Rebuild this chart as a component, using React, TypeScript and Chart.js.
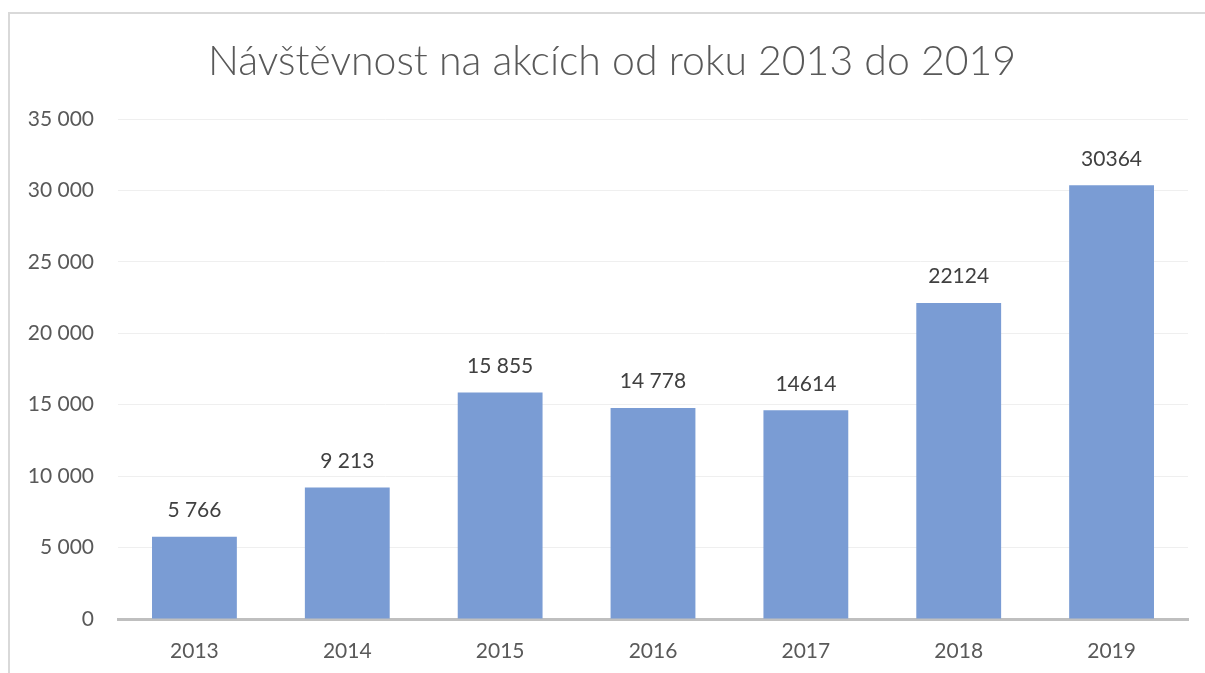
import React, { useEffect, useRef } from "react";
import { Chart, registerables } from "chart.js";

Chart.register(...registerables);

const categories = ["2013", "2014", "2015", "2016", "2017", "2018", "2019"];
const visitors = [5766, 9213, 15855, 14778, 14614, 22124, 30364];
const valueLabels = ["5 766", "9 213", "15 855", "14 778", "14614", "22124", "30364"];
const titleText = "Návštěvnost na akcích od roku 2013 do 2019";

const FONT = "Lato, 'Open Sans', sans-serif";
const TEXT = "#595959";

const fmt = (v: number) => String(v).replace(/\B(?=(\d{3})+(?!\d))/g, " ");

const decor = {
  id: "decor",
  beforeDraw(chart: any) {
    const ctx = chart.ctx;
    ctx.save();
    ctx.fillStyle = "#ffffff";
    ctx.fillRect(0, 0, chart.width, chart.height);
    ctx.strokeStyle = "#d9d9d9";
    ctx.lineWidth = 2;
    ctx.beginPath();
    ctx.moveTo(9, 700);
    ctx.lineTo(9, 13);
    ctx.lineTo(1205, 13);
    ctx.stroke();
    ctx.fillStyle = TEXT;
    ctx.font = `300 41px ${FONT}`;
    ctx.textAlign = "center";
    ctx.textBaseline = "alphabetic";
    ctx.fillText(titleText, 612, 75);
    ctx.restore();
  },
  afterDatasetsDraw(chart: any) {
    const ctx = chart.ctx;
    const meta = chart.getDatasetMeta(0);
    ctx.save();
    ctx.fillStyle = "#404040";
    ctx.font = `21px ${FONT}`;
    ctx.textAlign = "center";
    ctx.textBaseline = "alphabetic";
    meta.data.forEach((bar: any, i: number) => {
      ctx.fillText(valueLabels[i], bar.x, bar.y - 19.5);
    });
    ctx.restore();
  },
};

export default function App() {
  const ref = useRef<HTMLCanvasElement | null>(null);
  useEffect(() => {
    if (!ref.current) return;
    const chart = new Chart(ref.current, {
      type: "bar",
      data: {
        labels: categories,
        datasets: [
          {
            data: visitors,
            backgroundColor: "#7A9CD4",
            barPercentage: 0.555,
            categoryPercentage: 1,
          },
        ],
      },
      options: {
        animation: false,
        responsive: false,
        maintainAspectRatio: false,
        layout: { padding: { top: 119, right: 17, left: 0, bottom: 0 } },
        plugins: { legend: { display: false }, tooltip: { enabled: false }, title: { display: false } },
        scales: {
          x: {
            grid: { display: false, drawTicks: false },
            border: { display: true, color: "#bfbfbf", width: 3 },
            ticks: { color: TEXT, font: { family: FONT, size: 21 }, padding: 20 },
            afterFit: (s: any) => { s.height = 54; },
          },
          y: {
            min: 0,
            max: 35000,
            grid: { color: "#efefef", lineWidth: 1, drawTicks: false },
            border: { display: false },
            ticks: {
              stepSize: 5000,
              color: TEXT,
              font: { family: FONT, size: 21 },
              padding: 24,
              callback: (v: any) => fmt(Number(v)),
            },
            afterFit: (s: any) => { s.width = 118; },
          },
        },
      },
      plugins: [decor],
    });
    return () => chart.destroy();
  }, []);
  return (
    <div style={{ position: "fixed", left: 0, top: 0, width: 1205, height: 673, background: "#fff" }}>
      <canvas ref={ref} width={1205} height={673} style={{ width: 1205, height: 673, display: "block" }} />
    </div>
  );
}
